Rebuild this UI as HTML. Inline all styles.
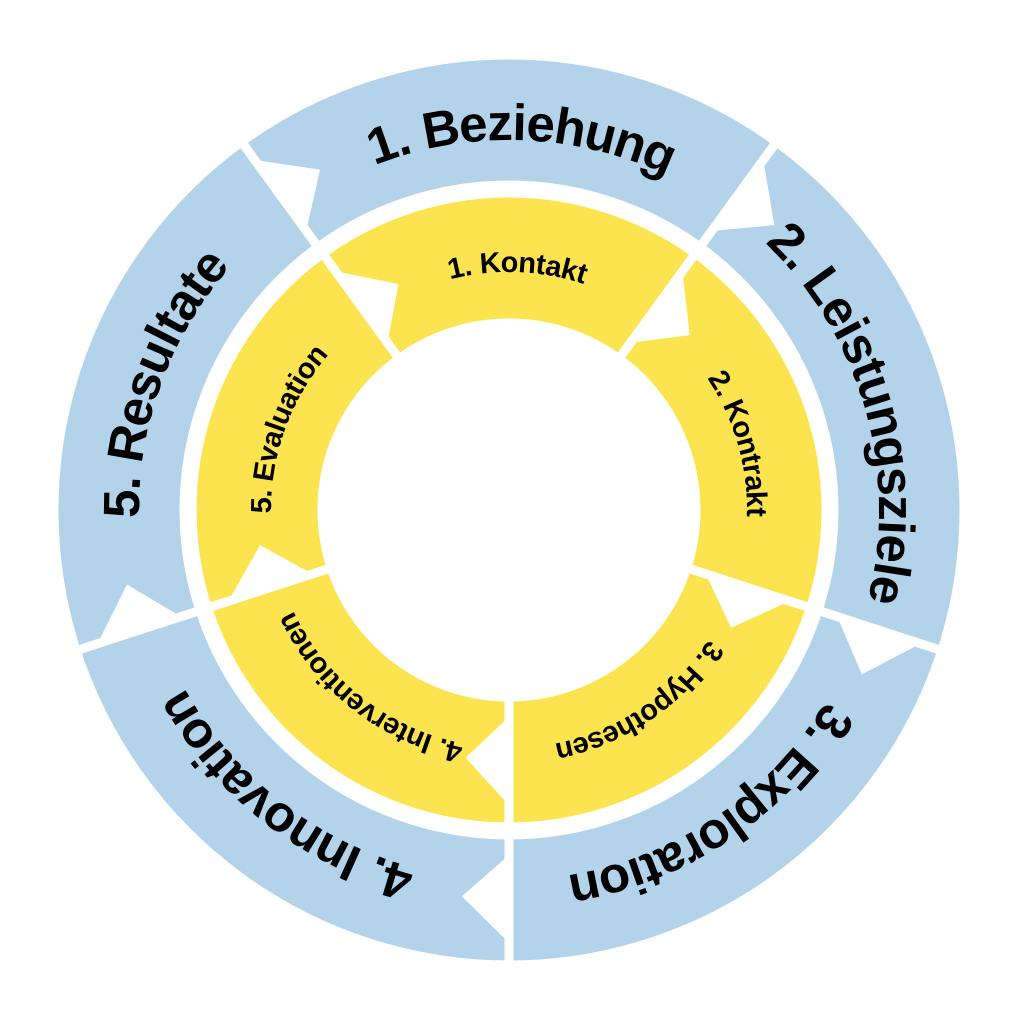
<!DOCTYPE html>
<html><head><meta charset="utf-8"><style>
html,body{margin:0;padding:0;background:#fff;width:1020px;height:1024px;overflow:hidden}
svg{display:block}
text{font-family:"Liberation Sans",sans-serif;font-weight:bold;fill:#000}
</style></head><body>
<svg id="s" width="1020" height="1024" viewBox="0 0 1020 1024"></svg>
<script>
const cx=509,cy=510,NS="http://www.w3.org/2000/svg";
const s=document.getElementById('s');
function P(a,r){const t=a*Math.PI/180;return [(cx+r*Math.sin(t)).toFixed(2),(cy-r*Math.cos(t)).toFixed(2)];}
function seg(a1,a2,r1,r2,fill){
  const rt=t=>r1+(r2-r1)*t;
  const o1=P(a1,r2),o2=P(a2,r2),i2=P(a2,r1),i1=P(a1,r1);
  const n1=P(a1,rt(0.78)),n2=P(a1+(r2>400?6:8.5),rt(0.49)),n3=P(a1,rt(0.2));
  const d=`M${o1} A${r2} ${r2} 0 0 1 ${o2} L${i2} A${r1} ${r1} 0 0 0 ${i1} L${n3} L${n2} L${n1} Z`;
  const p=document.createElementNS(NS,'path');
  p.setAttribute('d',d);p.setAttribute('fill',fill);p.setAttribute('stroke','#fff');p.setAttribute('stroke-width','9');p.setAttribute('stroke-linejoin','miter');
  s.appendChild(p);
}
let id=0;
function label(a1,a2,r,txt,size,ls){
  const pid='tp'+(id++);
  const p=document.createElementNS(NS,'path');
  const A=P(a1,r),B=P(a2,r);
  p.setAttribute('d',`M${A} A${r} ${r} 0 0 1 ${B}`);p.setAttribute('id',pid);p.setAttribute('fill','none');
  s.appendChild(p);
  const t=document.createElementNS(NS,'text');
  t.setAttribute('font-size',size);t.setAttribute('text-anchor','middle');t.setAttribute('dominant-baseline','central');
  if(ls)t.setAttribute('letter-spacing',ls);
  const tp=document.createElementNS(NS,'textPath');
  tp.setAttribute('href','#'+pid);tp.setAttribute('startOffset','50%');tp.textContent=txt;
  t.appendChild(tp);s.appendChild(t);
}
const starts=[324,36,108,180,252];
const big=["1. Beziehung","2. Leistungsziele","3. Exploration","4. Innovation","5. Resultate"];
const small=["1. Kontakt","2. Kontrakt","3. Hypothesen","4. Interventionen","5. Evaluation"];
for(let i=0;i<5;i++){
  const a=starts[i];
  seg(a,a+72,325,455,'#b3d3ea');
  seg(a,a+72,187,317,'#fbe44f');
}
for(let i=0;i<5;i++){
  const a=starts[i];
  label(a+4,a+72,388,big[i],51);
  label(a+4,a+72,247,small[i],29);
}
</script>
</body></html>
